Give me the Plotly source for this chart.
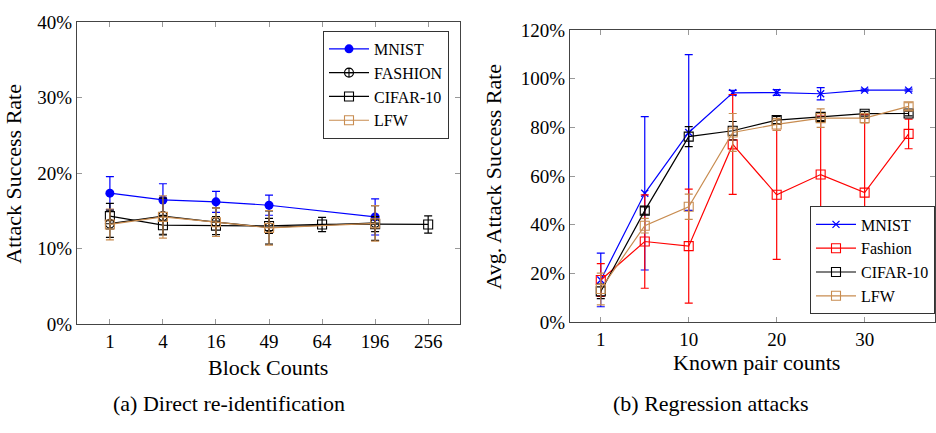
import plotly.graph_objects as go

# ---------------- data ----------------
blocks = ["1", "4", "16", "49", "64", "196", "256"]

a_mnist_x = ["1", "4", "16", "49", "196"]
a_mnist_y = [17.35, 16.45, 16.2, 15.75, 14.2]
a_mnist_e = [2.2, 2.15, 1.4, 1.33, 2.4]

a_fashion_x = ["1", "4", "16", "49", "196"]
a_fashion_y = [13.3, 14.3, 13.5, 12.8, 13.4]
a_fashion_e = [1.8, 2.4, 1.9, 2.2, 2.3]

a_cifar_x = ["1", "4", "16", "49", "64", "196", "256"]
a_cifar_y = [14.3, 13.1, 13.05, 13.0, 13.2, 13.25, 13.2]
a_cifar_e = [1.7, 1.3, 1.2, 1.0, 0.95, 1.0, 1.15]

a_lfw_x = ["1", "4", "16", "49", "196"]
a_lfw_y = [13.2, 14.2, 13.5, 12.75, 13.35]
a_lfw_e = [2.05, 2.8, 1.9, 2.3, 2.35]

a_yticks = [0, 10, 20, 30, 40]

pairs = ["1", "5", "10", "15", "20", "25", "30", "35"]
pair_ticks = ["1", "10", "20", "30"]

b_mnist_y = [17.3, 52.9, 77.9, 94.2, 94.3, 93.8, 95.3, 95.3]
b_mnist_e = [11.0, 31.5, 32.0, 1.0, 1.2, 2.5, 0.4, 0.4]

b_fashion_y = [17.3, 33.1, 31.2, 73.0, 52.3, 60.6, 53.2, 77.3]
b_fashion_e = [6.7, 19.2, 23.4, 20.5, 26.5, 24.0, 32.0, 6.1]

b_cifar_y = [12.6, 45.8, 76.2, 78.6, 83.0, 84.3, 85.6, 85.7]
b_cifar_e = [3.0, 1.5, 4.1, 3.8, 1.5, 1.5, 1.0, 1.0]

b_lfw_y = [13.6, 39.6, 47.4, 77.9, 81.2, 83.8, 83.8, 88.6]
b_lfw_e = [6.5, 3.0, 5.2, 7.8, 2.5, 3.8, 2.0, 1.5]

b_yticks = [0, 20, 40, 60, 80, 100, 120]

# ---------------- style ----------------
FONT = "Liberation Serif"
BLUE = "#0000ff"
RED = "#ff0000"
BLACK = "#000000"
TAN = "rgb(200,140,80)"
W, H = 936, 433


def err(vals, color):
    return dict(type="data", array=vals, visible=True, color=color,
                thickness=1.2, width=4)


fig = go.Figure()

# ---- left panel ----
fig.add_trace(go.Scatter(
    x=a_mnist_x, y=a_mnist_y, error_y=err(a_mnist_e, BLUE), name="MNIST",
    mode="lines+markers", line=dict(color=BLUE, width=1.2),
    marker=dict(symbol="circle", size=9, color=BLUE),
    xaxis="x", yaxis="y", legend="legend"))
fig.add_trace(go.Scatter(
    x=a_fashion_x, y=a_fashion_y, error_y=err(a_fashion_e, BLACK), name="FASHION",
    mode="lines+markers", line=dict(color=BLACK, width=1.2),
    marker=dict(symbol="circle-cross-open", size=9, color=BLACK, line=dict(width=1.1)),
    xaxis="x", yaxis="y", legend="legend"))
fig.add_trace(go.Scatter(
    x=a_cifar_x, y=a_cifar_y, error_y=err(a_cifar_e, BLACK), name="CIFAR-10",
    mode="lines+markers", line=dict(color=BLACK, width=1.2),
    marker=dict(symbol="square-open", size=9, color=BLACK, line=dict(width=1.1)),
    xaxis="x", yaxis="y", legend="legend"))
fig.add_trace(go.Scatter(
    x=a_lfw_x, y=a_lfw_y, error_y=err(a_lfw_e, TAN), name="LFW",
    mode="lines+markers", line=dict(color=TAN, width=1.2),
    marker=dict(symbol="square-open", size=9, color=TAN, line=dict(width=1.1)),
    xaxis="x", yaxis="y", legend="legend"))

# ---- right panel ----
fig.add_trace(go.Scatter(
    x=pairs, y=b_mnist_y, error_y=err(b_mnist_e, BLUE), name="MNIST",
    mode="lines+markers", line=dict(color=BLUE, width=1.2),
    marker=dict(symbol="x-thin-open", size=7, color=BLUE, line=dict(width=1.3, color=BLUE)),
    xaxis="x2", yaxis="y2", legend="legend2"))
fig.add_trace(go.Scatter(
    x=pairs, y=b_fashion_y, error_y=err(b_fashion_e, RED), name="Fashion",
    mode="lines+markers", line=dict(color=RED, width=1.2),
    marker=dict(symbol="square-open", size=9, color=RED, line=dict(width=1.1)),
    xaxis="x2", yaxis="y2", legend="legend2"))
fig.add_trace(go.Scatter(
    x=pairs, y=b_cifar_y, error_y=err(b_cifar_e, BLACK), name="CIFAR-10",
    mode="lines+markers", line=dict(color=BLACK, width=1.2),
    marker=dict(symbol="square-open", size=9, color=BLACK, line=dict(width=1.1)),
    xaxis="x2", yaxis="y2", legend="legend2"))
fig.add_trace(go.Scatter(
    x=pairs, y=b_lfw_y, error_y=err(b_lfw_e, TAN), name="LFW",
    mode="lines+markers", line=dict(color=TAN, width=1.2),
    marker=dict(symbol="square-open", size=9, color=TAN, line=dict(width=1.1)),
    xaxis="x2", yaxis="y2", legend="legend2"))

axis_common = dict(showline=True, linecolor="#444", linewidth=1, mirror="ticks",
                   ticks="inside", ticklen=5, tickcolor="#999", tickwidth=1,
                   showgrid=False, zeroline=False,
                   tickfont=dict(family=FONT, size=19, color="black"))

legend_common = dict(xanchor="left", bgcolor="white",
                     bordercolor="#333", borderwidth=1,
                     font=dict(family=FONT, size=16), itemwidth=40,
                     tracegroupgap=0)

fig.update_layout(
    width=W, height=H,
    margin=dict(l=0, r=0, t=0, b=0),
    paper_bgcolor="white", plot_bgcolor="white",
    font=dict(family=FONT, color="black"),
    xaxis=dict(domain=[77 / W, 460 / W], anchor="y", type="category",
               categoryorder="array", categoryarray=blocks,
               range=[-0.62, 6.6], **axis_common),
    yaxis=dict(domain=[1 - 330 / H, 1 - 13 / H], anchor="x", range=[0, 40],
               tickmode="array", tickvals=a_yticks,
               ticktext=[f"{v}%" for v in a_yticks], **axis_common),
    xaxis2=dict(domain=[570 / W, 935 / W], anchor="y2", type="category",
                categoryorder="array", categoryarray=pairs,
                tickmode="array", tickvals=pair_ticks, ticktext=pair_ticks,
                range=[-0.7, 7.6], **axis_common),
    yaxis2=dict(domain=[1 - 328 / H, 1 - 21 / H], anchor="x2", range=[0, 120],
                tickmode="array", tickvals=b_yticks,
                ticktext=[f"{v}%" for v in b_yticks], **axis_common),
    legend=dict(x=323 / W, y=1 - 22 / H, yanchor="top", **legend_common),
    legend2=dict(x=810 / W, y=1 - 320 / H, yanchor="bottom", **legend_common),
    showlegend=True,
)

ann_font = dict(family=FONT, size=22, color="black")
annotations = [
    dict(text="Attack Success Rate", x=14 / W, y=1 - 172 / H, textangle=-90),
    dict(text="Avg. Attack Success Rate", x=494 / W, y=1 - 175 / H, textangle=-90),
    dict(text="Block Counts", x=268 / W, y=1 - 376 / H),
    dict(text="Known pair counts", x=756 / W, y=1 - 370 / H),
    dict(text="(a) Direct re-identification", x=229 / W, y=1 - 414 / H),
    dict(text="(b) Regression attacks", x=711 / W, y=1 - 414 / H),
]
for a in annotations:
    fig.add_annotation(xref="paper", yref="paper", showarrow=False,
                       xanchor="center", yanchor="middle", font=ann_font, **a)

fig.write_html("out.html")
